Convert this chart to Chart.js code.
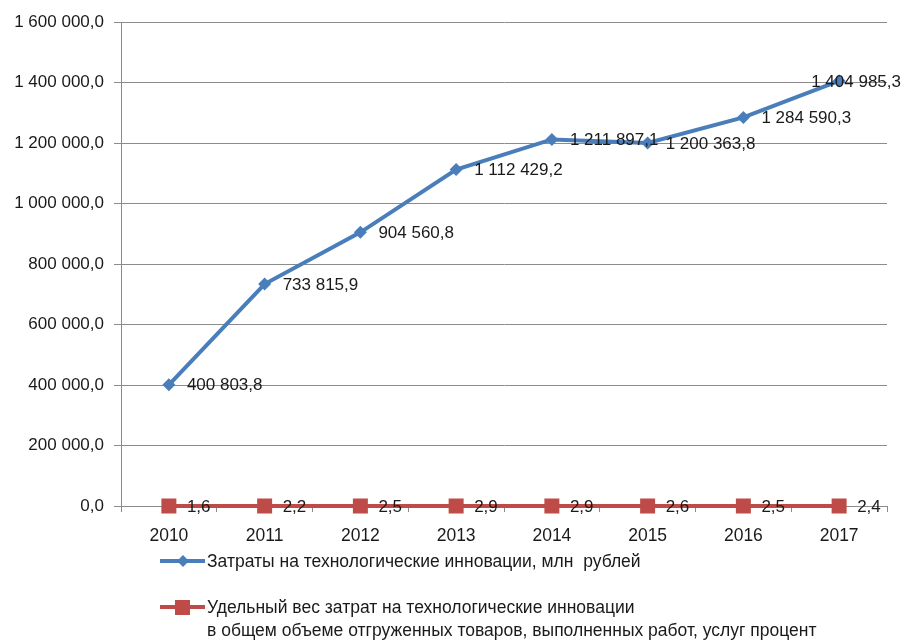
<!DOCTYPE html>
<html>
<head>
<meta charset="utf-8">
<script src="https://cdn.jsdelivr.net/npm/chart.js@4"></script>
<style>
  html, body { margin: 0; padding: 0; background: #fff; }
  #wrap { width: 904px; height: 640px; position: relative; }
</style>
</head>
<body>
<div id="wrap"><canvas id="chart"></canvas></div>
<script>
    const years = ['2010', '2011', '2012', '2013', '2014', '2015', '2016', '2017'];
    const costs = [400803.8, 733815.9, 904560.8, 1112429.2, 1211897.1, 1200363.8, 1284590.3, 1404985.3];
    const share = [1.6, 2.2, 2.5, 2.9, 2.9, 2.6, 2.5, 2.4];
    const yTicks = [0, 200000, 400000, 600000, 800000, 1000000, 1200000, 1400000, 1600000];

    const costsLabel = 'Затраты на технологические инновации, млн  рублей';
    const shareLabel = ['Удельный вес затрат на технологические инновации',
                        'в общем объеме отгруженных товаров, выполненных работ, услуг процент'];

    const blue = '#4A7EBB';
    const red = '#BE4B48';
    const gridGray = '#8c8c8c';
    const font = 'Liberation Sans, Arial, sans-serif';

    // 1 600 000,0 style
    function fmt(v) {
        const parts = v.toFixed(1).split('.');
        const int = parts[0].replace(/\B(?=(\d{3})+(?!\d))/g, ' ');
        return int + ',' + parts[1];
    }

    // labels to the right of each point
    const pointLabels = {
        id: 'pointLabels',
        afterDatasetsDraw(chart) {
            const c = chart.ctx;
            c.save();
            c.font = '17px ' + font;
            c.fillStyle = '#1a1a1a';
            c.textAlign = 'left';
            c.textBaseline = 'middle';
            chart.data.datasets.forEach((ds, i) => {
                const meta = chart.getDatasetMeta(i);
                meta.data.forEach((pt, j) => {
                    const txt = ds.labelFmt(ds.rawValues[j]);
                    const w = c.measureText(txt).width;
                    let x = pt.x + ds.labelGap;
                    if (x + w > chart.width - 3) x = chart.width - 3 - w;
                    c.fillText(txt, x, pt.y + 1);
                });
            });
            c.restore();
        }
    };

    // legend under the chart, Excel style
    const bottomLegend = {
        id: 'bottomLegend',
        afterDraw(chart) {
            const c = chart.ctx;
            c.save();
            c.font = '17.5px ' + font;
            c.fillStyle = '#1a1a1a';
            c.textBaseline = 'middle';
            c.lineWidth = 4;

            // item 1
            c.strokeStyle = blue;
            c.beginPath(); c.moveTo(160, 561); c.lineTo(205, 561); c.stroke();
            c.fillStyle = blue;
            c.beginPath();
            c.moveTo(183, 555); c.lineTo(189, 561); c.lineTo(183, 567); c.lineTo(177, 561);
            c.closePath(); c.fill();
            c.fillStyle = '#1a1a1a';
            c.fillText(costsLabel, 207, 562);

            // item 2
            c.strokeStyle = red;
            c.beginPath(); c.moveTo(160, 607); c.lineTo(205, 607); c.stroke();
            c.fillStyle = red;
            c.fillRect(175, 600, 15, 15);
            c.fillStyle = '#1a1a1a';
            c.fillText(shareLabel[0], 207, 608);
            c.fillText(shareLabel[1], 207, 631);
            c.restore();
        }
    };

    const ctx = document.getElementById('chart').getContext('2d');
    const chart = new Chart(ctx, {
        type: 'line',
        data: {
            labels: years,
            datasets: [{
                label: costsLabel,
                data: costs,
                rawValues: costs,
                labelFmt: fmt,
                labelGap: 18,
                borderColor: blue,
                backgroundColor: blue,
                borderWidth: 4,
                pointStyle: 'rectRot',
                pointRadius: 6.5,
                pointBorderWidth: 0,
                tension: 0,
                clip: false
            }, {
                label: shareLabel.join(' '),
                data: share,
                rawValues: share,
                labelFmt: v => v.toFixed(1).replace('.', ','),
                labelGap: 18,
                borderColor: red,
                backgroundColor: red,
                borderWidth: 4,
                pointStyle: 'rect',
                pointRadius: 10.6,
                pointBorderWidth: 0,
                tension: 0,
                clip: false
            }]
        },
        options: {
            responsive: true,
            maintainAspectRatio: false,
            animation: false,
            events: [],
            layout: { padding: { top: 22, right: 17, bottom: 94, left: 0 } },
            plugins: {
                legend: { display: false },
                tooltip: { enabled: false }
            },
            scales: {
                x: {
                    offset: true,
                    grid: {
                        offset: true,
                        drawOnChartArea: false,
                        drawTicks: true,
                        tickLength: 6,
                        color: gridGray
                    },
                    border: { display: true, color: gridGray },
                    ticks: {
                        color: '#1a1a1a',
                        font: { family: font, size: 17.5 },
                        padding: 14,
                        maxRotation: 0
                    },
                    afterFit: s => { s.height = 40; }
                },
                y: {
                    min: 0,
                    max: 1600000,
                    afterBuildTicks: s => { s.ticks = yTicks.map(v => ({ value: v })); },
                    grid: {
                        color: gridGray,
                        tickLength: 7
                    },
                    border: { display: true, color: gridGray },
                    ticks: {
                        color: '#1a1a1a',
                        font: { family: font, size: 17 },
                        padding: 10,
                        callback: v => fmt(v)
                    },
                    afterFit: s => { s.width = 121; }
                }
            }
        },
        plugins: [pointLabels, bottomLegend]
    });
</script>
</body>
</html>
